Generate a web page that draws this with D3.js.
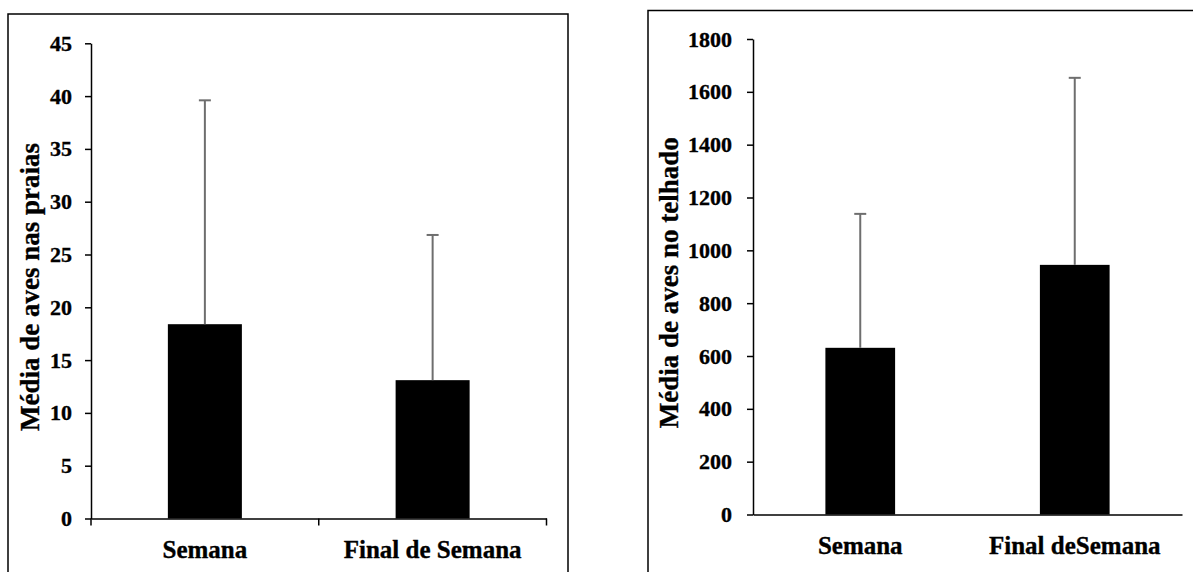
<!DOCTYPE html>
<html>
<head>
<meta charset="utf-8">
<script src="https://cdn.jsdelivr.net/npm/d3@7.9.0/dist/d3.min.js"></script>
<style>
  body { margin: 0; background: #fff; }
  svg { display: block; }
  svg text { font-family: "Liberation Serif", Tinos, "Times New Roman", Times, serif !important; font-weight: bold; fill: #000; stroke: #000; stroke-width: 0.35px; }
</style>
</head>
<body>
<svg id="chart" width="1193" height="572"></svg>
<script>
// data
const praiaCats = ["Semana", "Final de Semana"];
const praiaMeans = [18.4, 13.1];
const praiaErr = [21.2, 13.75];
const praiaTicks = [0, 5, 10, 15, 20, 25, 30, 35, 40, 45];

const telhadoCats = ["Semana", "Final deSemana"];
const telhadoMeans = [631, 945];
const telhadoErr = [507, 708];
const telhadoTicks = [0, 200, 400, 600, 800, 1000, 1200, 1400, 1600, 1800];

const svg = d3.select("#chart");

// panel frames
svg.append("path")
  .attr("d", "M8,572 V14 H568 V572")
  .attr("fill", "none").attr("stroke", "#000").attr("stroke-width", 1.5);
svg.append("path")
  .attr("d", "M648,572 V10.5 H1193")
  .attr("fill", "none").attr("stroke", "#000").attr("stroke-width", 1.5);

function drawPanel(opts) {
  const { cats, means, errs, ticks, yMax, xRange, yRange, title, titleX, boundaryTicks, labelPad } = opts;
  const g = svg.append("g");

  const x = d3.scaleBand().domain(cats).range(xRange).padding(0);
  const y = d3.scaleLinear().domain([0, yMax]).range(yRange);
  const bw = x.bandwidth() * 0.325;

  // y axis
  const yAxis = g.append("g")
    .attr("transform", `translate(${xRange[0]},0)`)
    .call(d3.axisLeft(y).tickValues(ticks).tickFormat(d3.format("d"))
      .tickSize(6).tickSizeOuter(0).tickPadding(labelPad));
  yAxis.select(".domain").attr("stroke", "#000").attr("stroke-width", 1.5);
  yAxis.selectAll(".tick line").attr("stroke", "#000").attr("stroke-width", 1.5);
  yAxis.selectAll(".tick text").attr("font-size", 22);

  // bars
  g.selectAll(".bar").data(cats).join("rect")
    .attr("x", d => x(d) + x.bandwidth() / 2 - bw / 2)
    .attr("y", (d, i) => y(means[i]))
    .attr("width", bw)
    .attr("height", (d, i) => y(0) - y(means[i]))
    .attr("fill", "#000");

  // error bars (upper only)
  const eb = g.selectAll(".err").data(cats).join("g");
  eb.append("line")
    .attr("x1", d => x(d) + x.bandwidth() / 2)
    .attr("x2", d => x(d) + x.bandwidth() / 2)
    .attr("y1", (d, i) => y(means[i]))
    .attr("y2", (d, i) => y(means[i] + errs[i]))
    .attr("stroke", "#6e6e6e").attr("stroke-width", 2);
  eb.append("line")
    .attr("x1", d => x(d) + x.bandwidth() / 2 - 6)
    .attr("x2", d => x(d) + x.bandwidth() / 2 + 6)
    .attr("y1", (d, i) => y(means[i] + errs[i]))
    .attr("y2", (d, i) => y(means[i] + errs[i]))
    .attr("stroke", "#6e6e6e").attr("stroke-width", 2);

  // x axis
  const xAxis = g.append("g")
    .attr("transform", `translate(0,${y(0)})`)
    .call(d3.axisBottom(x).tickSize(0).tickSizeOuter(0));
  xAxis.select(".domain").attr("stroke", "#000").attr("stroke-width", 1.5);
  xAxis.selectAll(".tick text")
    .attr("y", 39).attr("dy", 0)
    .attr("font-size", 25);

  if (boundaryTicks) {
    const bounds = cats.map(c => x(c)).concat([x.range()[1]]);
    g.selectAll(".btick").data(bounds).join("line")
      .attr("x1", d => d).attr("x2", d => d)
      .attr("y1", y(0)).attr("y2", y(0) + 7)
      .attr("stroke", "#000").attr("stroke-width", 1.5);
  }

  // y title
  const cy = (yRange[0] + yRange[1]) / 2 + 6;
  g.append("text")
    .attr("transform", `translate(${titleX},${cy}) rotate(-90)`)
    .attr("text-anchor", "middle")
    .attr("font-size", 27)
    .text(title);
}

drawPanel({
  cats: praiaCats, means: praiaMeans, errs: praiaErr, ticks: praiaTicks, yMax: 45,
  xRange: [91, 546.5], yRange: [518.5, 43.3],
  title: "Média de aves nas praias", titleX: 39, boundaryTicks: true, labelPad: 13
});

drawPanel({
  cats: telhadoCats, means: telhadoMeans, errs: telhadoErr, ticks: telhadoTicks, yMax: 1800,
  xRange: [753, 1182], yRange: [514.5, 39],
  title: "Média de aves no telhado", titleX: 678, boundaryTicks: false, labelPad: 15
});
</script>
</body>
</html>
